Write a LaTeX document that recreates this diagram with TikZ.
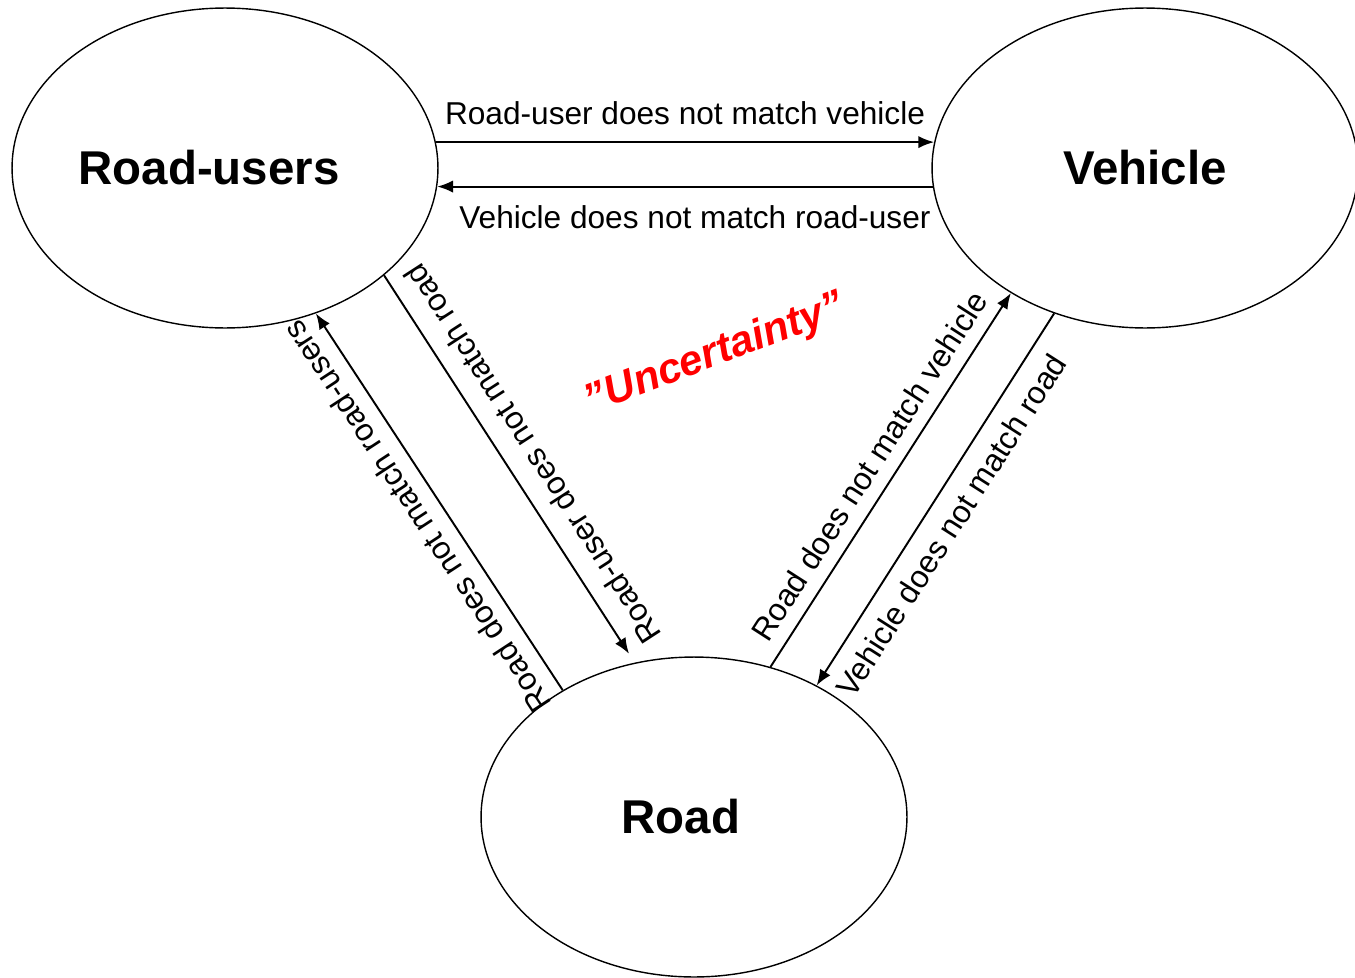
\documentclass[tikz,border=0pt]{standalone}
\usepackage{fontspec}
\setmainfont{Liberation Sans}
\usetikzlibrary{shapes, arrows.meta}
\tikzstyle{party}=[draw, ellipse, line width=0.8pt, minimum width=8.52cm, minimum height=6.4cm]
\tikzstyle{partyname}=[font=\fontsize{27}{30}\selectfont\bfseries]
\tikzstyle{every node}=[font=\fontsize{18}{21}\selectfont]
\tikzstyle{flow}=[line width=1.1pt]

\begin{document}
\begin{tikzpicture}[x=0.02cm, y=-0.02cm, >={Latex[length=9pt,width=7pt]}]
  \useasboundingbox (0,0) rectangle (1355,977);
  \node[party, label={[partyname, xshift=-0.32cm]center:Road-users}] (users) at (225,168) {};
  \node[party, label={[partyname]center:Vehicle}] (vehicle) at (1145,168) {};
  \node[party, label={[partyname, xshift=-0.26cm]center:Road}] (road) at (694,817) {};
  \node[text=red, font=\fontsize{24}{28}\selectfont\bfseries\itshape, rotate=21] (doubt) at (715,355) {”Uncertainty”};
  \draw[flow, ->] (users.7) -- node[above=6pt] {Road-user does not match vehicle} (vehicle.173);
  \draw[flow, ->] (vehicle.185) -- node[below=7pt, pos=0.48] {Vehicle does not match road-user} (users.355);
  \draw[flow, <-, shorten <=6pt] (road.111) -- node[sloped, below=5pt, allow upside down] {Road-user does not match road} (users.326);
  \draw[flow, ->] (road.136) -- node[sloped, above=5pt, allow upside down] {Road does not match road-users} (users.302);
  \draw[flow, ->] (road.63) -- node[sloped, above=4pt] {Road does not match vehicle} (vehicle.223);
  \draw[flow, <-] (road.47) -- node[sloped, below=5pt, pos=0.47] {Vehicle does not match road} (vehicle.238);
\end{tikzpicture}
\end{document}
